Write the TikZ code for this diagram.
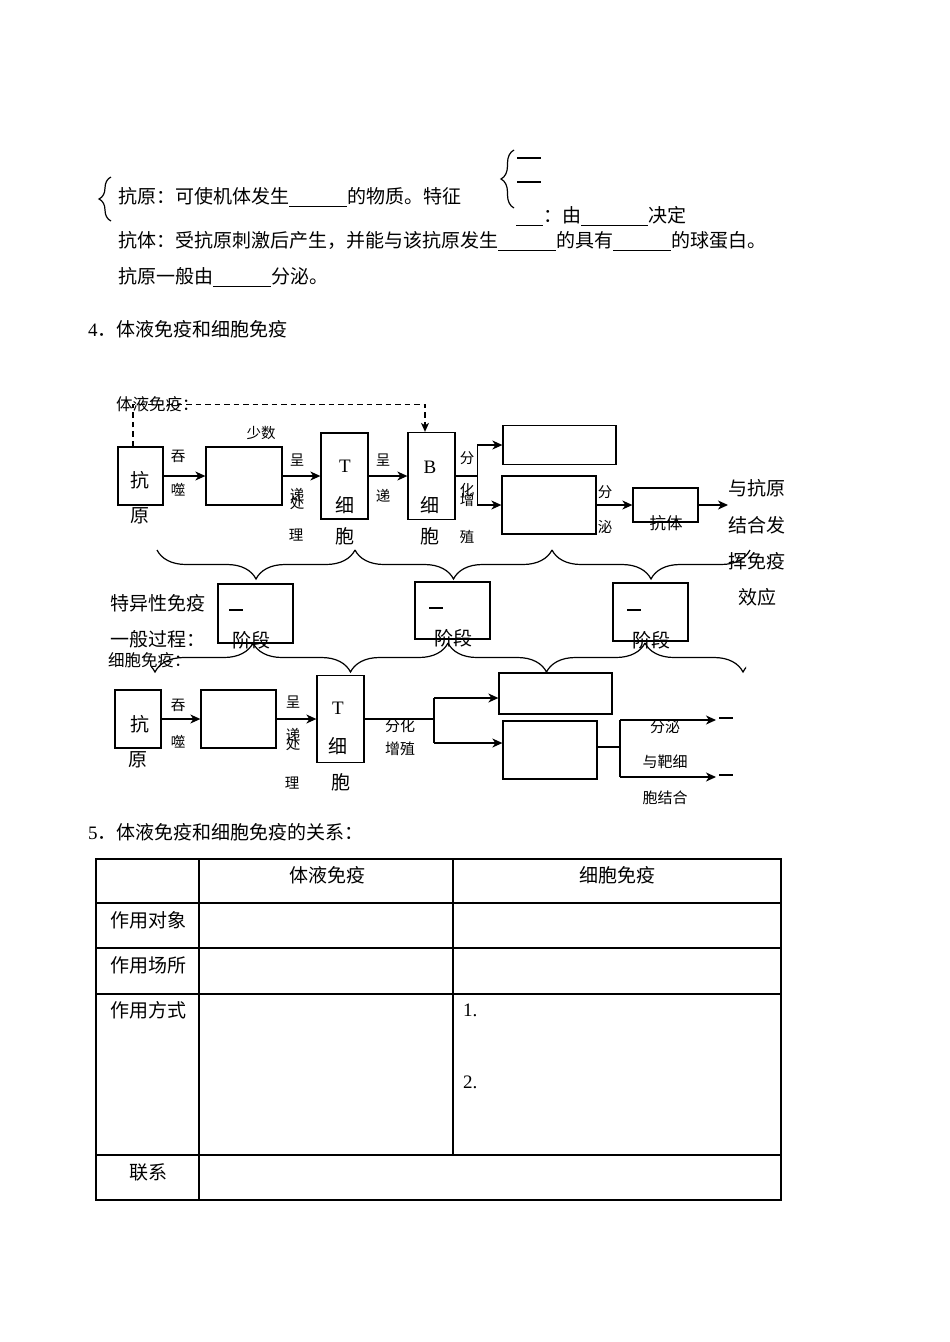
\documentclass[tikz,border=0pt]{standalone}
\usepackage{fontspec}
\setmainfont{Noto Sans CJK SC}
\newfontfamily\serifnum{Liberation Serif}
\usetikzlibrary{positioning, arrows.meta, decorations.pathreplacing}

\newcommand{\fillin}[1]{\rule[-3pt]{#1}{0.9pt}}
\newcommand{\fsBig}{\fontsize{19}{22}\selectfont}
\newcommand{\fsMid}{\fontsize{16.5}{20}\selectfont}
\newcommand{\fsSmall}{\fontsize{14.5}{17}\selectfont}

\tikzset{
  box/.style={draw, line width=1.3pt, inner sep=0pt},
  txt/.style={inner sep=0pt, font=\fsBig},
  lbl/.style={inner sep=0pt, font=\fsSmall},
  arr/.style={line width=1.2pt, -{Stealth[length=10pt,width=9pt,inset=3pt]}},
  ln/.style={line width=1.2pt},
  dsh/.style={line width=1.1pt, dash pattern=on 5.5pt off 4pt, -{Stealth[length=9pt,width=8pt,inset=2.5pt]}},
  brc/.style={line width=1.2pt, decorate, decoration={brace, amplitude=#1}},
  brc/.default=29pt,
}

\begin{document}
\begin{tikzpicture}[x=1pt, y=-1pt]
\useasboundingbox (0,0) rectangle (950,1342);

% antigen / antibody
\draw[brc=12pt] (111,221) -- (111,177);
\node[txt, anchor=west] (agDef) at (118,197) {抗原：可使机体发生\fillin{58pt}的物质。特征};
\draw[brc=13pt] (514,208) -- (514,150);
\node[inner sep=0pt] (featA) at (529,158) {\rule{24pt}{1.2pt}};
\node[inner sep=0pt] (featB) at (529,182) {\rule{24pt}{1.2pt}};
\node[txt, anchor=west] (featC) at (516,216) {\fillin{27pt}：由\fillin{67pt}决定};
\node[txt, anchor=west] (abDef) at (118,241) {抗体：受抗原刺激后产生，并能与该抗原发生\fillin{58pt}的具有\fillin{58pt}的球蛋白。};
\node[txt, anchor=west] (agSrc) at (118,277) {抗原一般由\fillin{58pt}分泌。};

\node[txt, anchor=west] (sec4) at (88,329) {{\serifnum 4}．体液免疫和细胞免疫};

% humoral immunity
\node[txt, font=\fsMid, anchor=west] (humLbl) at (116,404) {体液免疫：};
\node[box, minimum width=45pt, minimum height=58pt] (hAg) at (140.5,476) {};
\node[box, minimum width=76pt, minimum height=58pt] (hAPC) at (244,476) {};
\node[box, minimum width=47pt, minimum height=86pt] (hT) at (344.5,476) {};
\node[box, minimum width=47pt, minimum height=87pt] (hB) at (431.5,476) {};
\node[box, minimum width=113pt, minimum height=39pt] (hMem) at (559.5,445) {};
\node[box, minimum width=94pt, minimum height=58pt] (hPlasma) at (549,505) {};
\node[box, minimum width=65pt, minimum height=34pt] (hAb) at (665.5,505) {};
\coordinate (hOut) at (728,505);

\node[txt] (hAgA) at (140,480) {抗};
\node[txt] (hAgB) at (140,516) {原};
\node[lbl] (hPhA) at (178,456) {吞};
\node[lbl] (hPhB) at (178,490) {噬};
\node[lbl] (hFew) at (261,433) {少数};
\node[lbl] (hPrA) at (297,460) {呈};
\node[lbl] (hPrB) at (297,495) {递};
\node[lbl] (hPrC) at (297,503) {处};
\node[lbl] (hPrD) at (296,535) {理};
\node[txt, font=\fsBig\serifnum] (hTa) at (345,466) {T};
\node[txt] (hTb) at (345,505) {细};
\node[txt] (hTc) at (345,536) {胞};
\node[lbl] (hPsA) at (383,460) {呈};
\node[lbl] (hPsB) at (383,496) {递};
\node[txt, font=\fsBig\serifnum] (hBa) at (430,467) {B};
\node[txt] (hBb) at (430,505) {细};
\node[txt] (hBc) at (430,536) {胞};
\node[lbl] (hDvA) at (467,458) {分};
\node[lbl] (hDvB) at (467,490) {化};
\node[lbl] (hDvC) at (467,500) {增};
\node[lbl] (hDvD) at (467,537) {殖};
\node[lbl] (hSeA) at (605,492) {分};
\node[lbl] (hSeB) at (605,527) {泌};
\node[txt, font=\fsMid] (hAbTxt) at (666,523) {抗体};
\node[txt, align=center, font=\fontsize{19}{36.3}\selectfont] (hEffect) at (757,543) {与抗原\\结合发\\挥免疫\\效应};

\draw[dsh] ([xshift=-7.5pt]hAg.north) -- ++(0,-42) -| ([xshift=-6.5pt]hB.north);
\draw[arr] (hAg) -- (hAPC);
\draw[arr] (hAPC) -- (hT);
\draw[arr] (hT) -- (hB);
\draw[ln] (hB.east) -- ++(22,0) coordinate (hFork);
\draw[arr] (hFork) |- (hMem.west);
\draw[arr] (hFork) |- (hPlasma.west);
\draw[arr] (hPlasma) -- (hAb);
\draw[arr] (hAb) -- (hOut);

% stages
\draw[brc] (355,550) -- (157,550);
\draw[brc] (552,550) -- (355,550);
\draw[brc] (750,550) -- (552,550);

\node[box, minimum width=75pt, minimum height=59pt] (stA) at (255.5,613.5) {};
\node[box, minimum width=75pt, minimum height=57pt] (stB) at (452.5,610.5) {};
\node[box, minimum width=75pt, minimum height=58pt] (stC) at (650.5,612) {};
\node[inner sep=0pt] (stAa) at (236,610) {\rule{14pt}{1.5pt}};
\node[inner sep=0pt] (stBa) at (436,608) {\rule{14pt}{1.5pt}};
\node[inner sep=0pt] (stCa) at (634,610) {\rule{14pt}{1.5pt}};
\node[txt] (stAb) at (251,640) {阶段};
\node[txt] (stBb) at (453,638) {阶段};
\node[txt] (stCb) at (651,640) {阶段};

\node[txt, anchor=west] (procA) at (110,603) {特异性免疫};
\node[txt, anchor=west] (procB) at (110,639) {一般过程：};
\node[txt, anchor=west, font=\fsMid] (cellLbl) at (108,660) {细胞免疫：};

\begin{scope}
  \clip (151,630) rectangle (746,680);
  \draw[brc] (253,643) -- (57,643);
  \draw[brc] (448,643) -- (253,643);
  \draw[brc] (645,643) -- (448,643);
  \draw[brc] (841,643) -- (645,643);
\end{scope}

% cellular immunity
\node[box, minimum width=46pt, minimum height=58pt] (cAg) at (138,719) {};
\node[box, minimum width=75pt, minimum height=58pt] (cAPC) at (238.5,719) {};
\node[box, minimum width=47pt, minimum height=87pt] (cT) at (340.5,719) {};
\node[box, minimum width=113pt, minimum height=41pt] (cMem) at (555.5,693.5) {};
\node[box, minimum width=94pt, minimum height=58pt] (cEff) at (550,750) {};
\coordinate (cFork) at (434,719);
\coordinate (cForkTop) at (434,698);
\coordinate (cForkBot) at (434,743);
\coordinate (cSplit) at (620,747);
\coordinate (cOutTop) at (716,720);
\coordinate (cOutBot) at (716,777);

\node[txt] (cAgA) at (140,724) {抗};
\node[txt] (cAgB) at (138,760) {原};
\node[lbl] (cPhA) at (178,705) {吞};
\node[lbl] (cPhB) at (178,742) {噬};
\node[lbl] (cPrA) at (293,702) {呈};
\node[lbl] (cPrB) at (293,735) {递};
\node[lbl] (cPrC) at (293,744) {处};
\node[lbl] (cPrD) at (292,783) {理};
\node[txt, font=\fsBig\serifnum] (cTa) at (338,708) {T};
\node[txt] (cTb) at (338,746) {细};
\node[txt] (cTc) at (341,782) {胞};
\node[lbl, font=\fontsize{15}{18}\selectfont] (cDvA) at (400,726) {分化};
\node[lbl, font=\fontsize{15}{18}\selectfont] (cDvB) at (400,749) {增殖};
\node[lbl, font=\fontsize{15}{18}\selectfont] (cSe) at (665,727) {分泌};
\node[lbl, font=\fontsize{15}{18}\selectfont] (cKA) at (665,762) {与靶细};
\node[lbl, font=\fontsize{15}{18}\selectfont] (cKB) at (665,798) {胞结合};
\node[inner sep=0pt] (cResA) at (726,718) {\rule{14pt}{1.3pt}};
\node[inner sep=0pt] (cResB) at (726,775) {\rule{14pt}{1.3pt}};

\draw[arr] (cAg) -- (cAPC);
\draw[arr] (cAPC) -- (cT);
\draw[ln] (cT.east) -- (cFork);
\draw[ln] (cForkTop) -- (cForkBot);
\draw[arr] (cForkTop) -- (cForkTop -| cMem.west);
\draw[arr] (cForkBot) -- (cForkBot -| cEff.west);
\draw[ln] (cEff.east |- cSplit) -- (cSplit);
\draw[ln] (cSplit |- cOutTop) -- (cSplit |- cOutBot);
\draw[arr] (cSplit |- cOutTop) -- (cOutTop);
\draw[arr] (cSplit |- cOutBot) -- (cOutBot);

% relation table
\node[txt, anchor=west] (sec5) at (88,832) {{\serifnum 5}．体液免疫和细胞免疫的关系：};
\draw[ln] (96,859) rectangle (781,1200);
\foreach \y in {903,948,994,1155}
  \draw[ln] (96,\y) -- (781,\y);
\draw[ln] (199,859) -- (199,1200);
\draw[ln] (453,859) -- (453,1155);

\node[txt] (colHum) at (327,875) {体液免疫};
\node[txt] (colCell) at (617,875) {细胞免疫};
\node[txt] (rowObj) at (148,920) {作用对象};
\node[txt] (rowSite) at (148,965) {作用场所};
\node[txt] (rowWay) at (148,1010) {作用方式};
\node[txt] (rowLink) at (148,1172) {联系};
\node[txt, font=\fsBig\serifnum, anchor=west] (wayA) at (463,1010) {1.};
\node[txt, font=\fsBig\serifnum, anchor=west] (wayB) at (463,1082) {2.};
\end{tikzpicture}
\end{document}
